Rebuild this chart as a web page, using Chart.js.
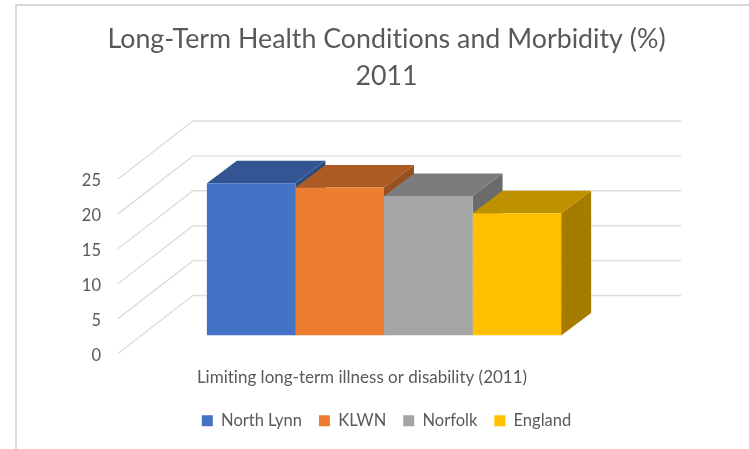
<!DOCTYPE html>
<html>
<head>
<meta charset="utf-8">
<style>
html,body{margin:0;padding:0;background:#fff;overflow:hidden}
#frame{position:absolute;left:15px;top:4px;width:734px;height:445px;box-sizing:border-box;border-left:2px solid #d9d9d9;border-top:2px solid #d9d9d9}
canvas{position:absolute;left:0;top:0}
</style>
<script src="https://cdn.jsdelivr.net/npm/chart.js@4/dist/chart.umd.min.js"></script>
</head>
<body>
<div id="frame"></div>
<canvas id="c" width="749" height="449"></canvas>
<script>
const categories = ["Limiting long-term illness or disability (2011)"];
const seriesNames = ["North Lynn", "KLWN", "Norfolk", "England"];
const seriesValues = [21.8, 21.2, 20.0, 17.5];
const frontColors = ["#4472C4", "#ED7D31", "#A5A5A5", "#FFC000"];
const topColors = ["#335593", "#AE5A23", "#7C7C7C", "#BF9000"];
const sideColors = ["#2B4A82", "#97501E", "#6B6B6B", "#A67C00"];
const titleLines = ["Long-Term Health Conditions and Morbidity (%)", "2011"];
const FONT = "Lato, Carlito, Calibri, sans-serif";
const TEXT = "#595959";
const BAR_DEPTH = [30, 22.5];
const WALL_BACK = [53, 40];
const WALL_FRONT = [-22, -18];

const threeD = {
  id: "threeD",
  beforeDraw(chart) {
    chart.ctx.textRendering = "optimizeSpeed";
  },
  beforeDatasetsDraw(chart) {
    const { ctx, chartArea, scales } = chart;
    ctx.save();
    ctx.strokeStyle = "#DDDDDD";
    ctx.lineWidth = 1.4;
    scales.y.ticks.forEach(t => {
      const y = scales.y.getPixelForValue(t.value);
      ctx.beginPath();
      ctx.moveTo(chartArea.left + WALL_FRONT[0], y - WALL_FRONT[1]);
      ctx.lineTo(chartArea.left + WALL_BACK[0], y - WALL_BACK[1]);
      ctx.lineTo(chartArea.right + WALL_BACK[0], y - WALL_BACK[1]);
      ctx.stroke();
    });
    const [dx, dy] = BAR_DEPTH;
    chart.data.datasets.forEach((ds, i) => {
      const b = chart.getDatasetMeta(i).data[0];
      const l = b.x - b.width / 2, r = b.x + b.width / 2;
      ctx.fillStyle = sideColors[i];
      ctx.beginPath();
      ctx.moveTo(r, b.y); ctx.lineTo(r + dx, b.y - dy);
      ctx.lineTo(r + dx, b.base - dy); ctx.lineTo(r, b.base);
      ctx.closePath(); ctx.fill();
      ctx.fillStyle = topColors[i];
      ctx.beginPath();
      ctx.moveTo(l, b.y); ctx.lineTo(l + dx, b.y - dy);
      ctx.lineTo(r + dx, b.y - dy); ctx.lineTo(r, b.y);
      ctx.closePath(); ctx.fill();
    });
    ctx.restore();
  }
};

new Chart(document.getElementById("c"), {
  type: "bar",
  plugins: [threeD],
  data: {
    labels: categories,
    datasets: seriesNames.map((name, i) => ({
      label: name,
      data: [seriesValues[i]],
      backgroundColor: frontColors[i],
      borderWidth: 0,
      barPercentage: 1,
      categoryPercentage: 0.726
    }))
  },
  options: {
    responsive: false,
    animation: false,
    layout: { padding: { left: 24, right: 0, top: 0, bottom: 10 } },
    plugins: {
      tooltip: { enabled: false },
      title: {
        display: true,
        text: titleLines,
        color: TEXT,
        font: { family: FONT, size: 26.8, weight: "normal", lineHeight: 1.381 },
        padding: { top: 20.5, bottom: 66.5 }
      },
      legend: {
        position: "bottom",
        labels: {
          color: TEXT,
          font: { family: FONT, size: 16.5 },
          boxWidth: 11,
          boxHeight: 11,
          padding: 17
        }
      }
    },
    scales: {
      x: {
        grid: { display: false },
        border: { display: false },
        afterFit(s) { s.height = 60; },
        ticks: {
          color: TEXT,
          font: { family: FONT, size: 17 },
          padding: 24,
          labelOffset: -22,
          maxRotation: 0
        }
      },
      y: {
        min: 0,
        max: 25,
        grid: { display: false },
        border: { display: false },
        afterFit(s) { s.width = 116; },
        ticks: {
          stepSize: 5,
          color: TEXT,
          font: { family: FONT, size: 16.5 },
          padding: 31,
          labelOffset: 20
        }
      },
      yRight: {
        position: "right",
        min: 0,
        max: 25,
        display: true,
        grid: { display: false },
        border: { display: false },
        ticks: { display: false },
        afterFit(s) { s.width = 121; }
      }
    }
  }
});
</script>
</body>
</html>
